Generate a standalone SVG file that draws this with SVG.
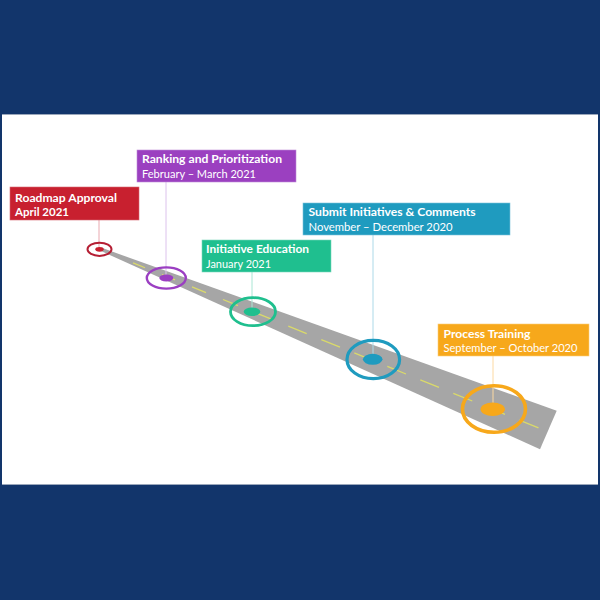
<svg xmlns="http://www.w3.org/2000/svg" width="600" height="600" viewBox="0 0 600 600">
<style>
.t1{font-family:Lato,"Liberation Sans",sans-serif;font-weight:bold;font-size:11.8px;fill:#fff}
.t2{font-family:Lato,"Liberation Sans",sans-serif;font-size:11.8px;fill:#fff}
.lead{stroke-width:1;fill:none}
</style>
<rect x="0" y="0" width="600" height="600" fill="#12356b"/>
<rect x="2" y="114" width="596" height="371" fill="#ffffff"/>
<line x1="2" y1="114.5" x2="598" y2="114.5" stroke="#9aa7bb" stroke-width="1"/>
<line x1="2" y1="484.5" x2="598" y2="484.5" stroke="#9aa7bb" stroke-width="1"/>
<g id="road">
<polygon points="101,247.6 556.7,410.7 540,449.3 100,250.6" fill="#a6a6a6"/>
<path d="M133,262.85L145,267.74M162,274.66L175,279.95M192,286.88L206,292.58M223,299.5L238,305.61M255.3,312.65L272,319.45M288.3,326.09L306.7,333.58M321.3,339.53L340,347.14M354.3,352.97L373,360.58M387.3,366.4L406,374.02M420.3,379.84L439,387.45M453.3,393.28L472.3,401.02M486.3,406.72L505,414.33M519.3,420.15L538.5,427.97" stroke="#dada6a" stroke-width="1.3" fill="none"/>
</g>
<g id="connectors">
<line class="lead" x1="99" y1="220" x2="99" y2="249" stroke="#e9a9b0"/>
<line class="lead" x1="166" y1="182" x2="166" y2="278" stroke="#dcc2ec"/>
<line class="lead" x1="252" y1="272" x2="252" y2="312" stroke="#a9e6d4"/>
<line class="lead" x1="373" y1="235" x2="373" y2="359" stroke="#acd9e8"/>
<line class="lead" x1="493" y1="356" x2="493" y2="409" stroke="#fcd9a2"/>
</g>
<g id="roadmap-approval">
<ellipse cx="99.5" cy="249.3" rx="12" ry="6.6" fill="none" stroke="#b51f34" stroke-width="2"/>
<ellipse cx="99.5" cy="249.3" rx="4.2" ry="2.4" fill="#c8202f"/>
<rect x="10" y="187" width="129" height="33" fill="#c8202f" stroke="#d86a74" stroke-width="0.6"/>
<text class="t1" x="15" y="201.5" textLength="102" lengthAdjust="spacingAndGlyphs">Roadmap Approval</text>
<text class="t1" x="15" y="216" textLength="54" lengthAdjust="spacingAndGlyphs">April 2021</text>
</g>
<g id="ranking-prioritization">
<ellipse cx="166.3" cy="278" rx="19.5" ry="10.6" fill="none" stroke="#9b3fc2" stroke-width="2.4"/>
<ellipse cx="166.3" cy="278" rx="7" ry="3.4" fill="#9b3fc2"/>
<rect x="137" y="150" width="159" height="32" fill="#9b40c0" stroke="#c08ad8" stroke-width="0.6"/>
<text class="t1" x="142" y="163" textLength="140" lengthAdjust="spacingAndGlyphs">Ranking and Prioritization</text>
<text class="t2" x="142" y="177.5" textLength="114" lengthAdjust="spacingAndGlyphs">February – March 2021</text>
</g>
<g id="initiative-education">
<ellipse cx="253" cy="311.7" rx="22.5" ry="14" fill="none" stroke="#1fbf8e" stroke-width="2.8"/>
<ellipse cx="252" cy="311.7" rx="8.3" ry="4.2" fill="#1fbf8e"/>
<rect x="202" y="240" width="129" height="32" fill="#1fbf8f" stroke="#7ed8bc" stroke-width="0.6"/>
<text class="t1" x="206" y="253" textLength="103" lengthAdjust="spacingAndGlyphs">Initiative Education</text>
<text class="t2" x="206" y="267.5" textLength="65" lengthAdjust="spacingAndGlyphs">January 2021</text>
</g>
<g id="submit-initiatives">
<ellipse cx="373.3" cy="359.5" rx="26.3" ry="19.2" fill="none" stroke="#1f9bbf" stroke-width="3.2"/>
<ellipse cx="372.7" cy="359.3" rx="9.8" ry="5.5" fill="#1f9bbf"/>
<rect x="303" y="203" width="207" height="32" fill="#1f9bbf" stroke="#7cc4db" stroke-width="0.6"/>
<text class="t1" x="308.5" y="216" textLength="167" lengthAdjust="spacingAndGlyphs">Submit Initiatives &amp; Comments</text>
<text class="t2" x="308.5" y="230.5" textLength="144" lengthAdjust="spacingAndGlyphs">November – December 2020</text>
</g>
<g id="process-training">
<ellipse cx="494" cy="409" rx="31.5" ry="23.3" fill="none" stroke="#f7a81b" stroke-width="3.6"/>
<ellipse cx="492.7" cy="409.3" rx="12.2" ry="6.8" fill="#f7a81b"/>
<rect x="438" y="324" width="151" height="32" fill="#f7a81b" stroke="#fbcd7a" stroke-width="0.6"/>
<text class="t1" x="443.5" y="337.5" textLength="87" lengthAdjust="spacingAndGlyphs">Process Training</text>
<text class="t2" x="443.5" y="352" textLength="134" lengthAdjust="spacingAndGlyphs">September – October 2020</text>
</g>
</svg>
